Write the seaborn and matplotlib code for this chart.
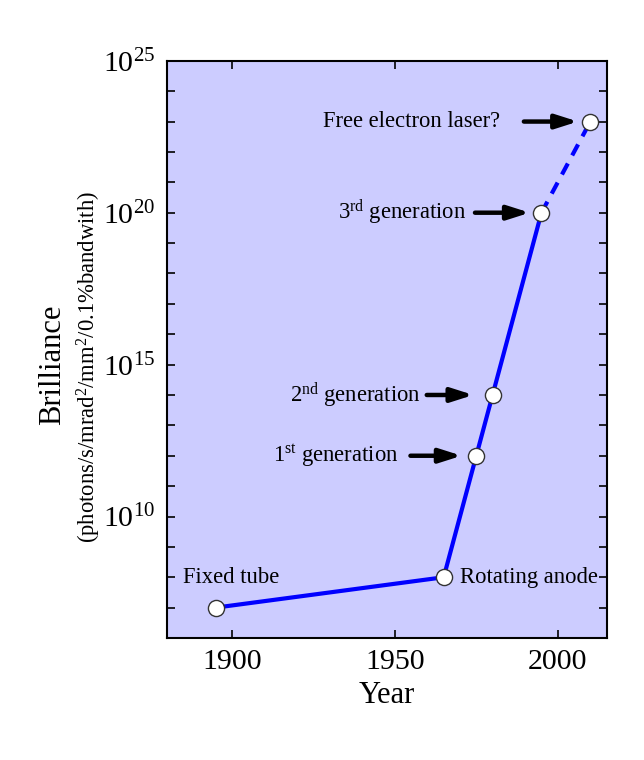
import matplotlib
matplotlib.use("Agg")
import matplotlib.pyplot as plt
import seaborn as sns
import pandas as pd
import numpy as np
from matplotlib.ticker import FixedLocator, LogFormatterMathtext, NullFormatter

# Data
years = [1895, 1965, 1975, 1980, 1995, 2010]
brilliance = [1e7, 1e8, 1e12, 1e14, 1e20, 1e23]
status = ["built", "built", "built", "built", "built", "future"]
labels = ["Fixed tube", "Rotating anode", r"1$^{\rm st}$ generation",
          r"2$^{\rm nd}$ generation", r"3$^{\rm rd}$ generation", "Free electron laser?"]

sns.set_theme(style="ticks")
plt.rcParams["font.family"] = ["Liberation Serif", "DejaVu Serif"]
plt.rcParams["mathtext.fontset"] = "custom"
plt.rcParams["mathtext.rm"] = "Liberation Serif"
plt.rcParams["mathtext.it"] = "Liberation Serif:italic"
plt.rcParams["mathtext.bf"] = "Liberation Serif:bold"
for k in ["text.color", "axes.labelcolor", "xtick.color", "ytick.color", "xtick.labelcolor", "ytick.labelcolor"]:
    plt.rcParams[k] = "black"

df = pd.DataFrame({"Year": years, "Brilliance": brilliance, "status": status})
solid = df.iloc[:5]
dashed = df.iloc[4:]

fig = plt.figure(figsize=(6.44, 7.6), dpi=100)
ax = fig.add_axes([0.2588, 0.1605, 0.942 - 0.2588, 0.920 - 0.1605])
ax.set_facecolor("#ccccff")

sns.lineplot(data=solid, x="Year", y="Brilliance", ax=ax, color="#0000ff", lw=3, zorder=2)
sns.lineplot(data=dashed, x="Year", y="Brilliance", ax=ax, color="#0000ff", lw=3,
             linestyle=(0, (3, 2.2)), zorder=2)
sns.scatterplot(data=df, x="Year", y="Brilliance", ax=ax, color="white", edgecolor="#333333",
                s=135, linewidth=1.0, zorder=3)

ax.set_yscale("log")
ax.set_xlim(1880, 2015)
ax.set_ylim(1e6, 1e25)
ax.xaxis.set_major_locator(FixedLocator([1900, 1950, 2000]))
ax.yaxis.set_major_locator(FixedLocator([1e10, 1e15, 1e20, 1e25]))
ax.yaxis.set_major_formatter(LogFormatterMathtext())
ax.yaxis.set_minor_locator(FixedLocator([10.0**k for k in range(6, 26)]))
ax.yaxis.set_minor_formatter(NullFormatter())
ax.tick_params(which="both", direction="in", top=True, right=True, length=6, width=1.2,
               color="black", labelcolor="black", labelsize=21.5, pad=8)
ax.tick_params(which="minor", length=6, width=1.2)
for sp in ax.spines.values():
    sp.set_linewidth(1.5)
    sp.set_color("black")

ax.set_xlabel("Year", fontsize=22, labelpad=4, color="black")
ax.set_ylabel("")

fig.text(53 / 644, 1 - 365 / 760, "Brilliance", rotation=90, fontsize=22,
         ha="center", va="center", color="black")
fig.text(89 / 644, 1 - 367 / 760,
         r"(photons/s/mrad$^2$/mm$^2$/0.1%bandwith)", rotation=90, fontsize=16.3,
         ha="center", va="center", color="black")

afs = 16.3
arrow = dict(arrowstyle="-|>,head_length=1.1,head_width=0.35", color="black", lw=3.2,
             shrinkA=0, shrinkB=0)
# annotations with arrows: (label index, text right x, tail x, head x)
arrow_specs = [(5, 1982.2, 1989.6, 2006.2), (4, 1972.0, 1974.6, 1991.4),
               (3, 1957.9, 1959.8, 1974.1), (2, 1951.0, 1954.8, 1970.5)]
for idx, tx, tail, head in arrow_specs:
    y = brilliance[idx]
    ax.text(tx, y, labels[idx], fontsize=afs, ha="right", va="center", color="black")
    ax.annotate("", xy=(head, y), xytext=(tail, y), arrowprops=arrow)

ax.text(1885.1, brilliance[1], labels[0], fontsize=afs, ha="left", va="center", color="black")
ax.text(1970.0, brilliance[1], labels[1], fontsize=afs, ha="left", va="center", color="black")

fig.savefig("out.png", dpi=100)
